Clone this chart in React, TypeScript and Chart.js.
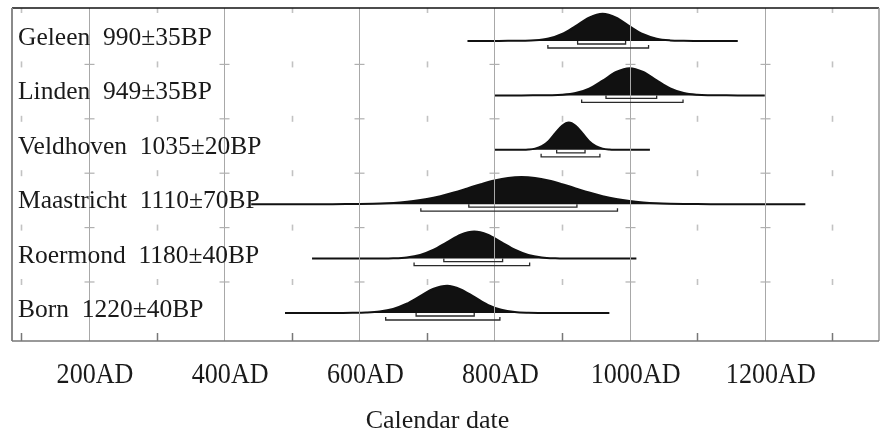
import React, { useEffect, useRef } from "react";
import { Chart, registerables } from "chart.js";

Chart.register(...registerables);

// ---------- data ----------
const SAMPLES = ["Geleen", "Linden", "Veldhoven", "Maastricht", "Roermond", "Born"];
const DATES = ["990±35BP", "949±35BP", "1035±20BP", "1110±70BP", "1180±40BP", "1220±40BP"];

// first calendar year (AD) and step of each probability list
const START_YEARS = [760, 800, 800, 440, 530, 490];
const STEP_YEARS = [20, 20, 10, 20, 20, 20];

// relative probability (peak = 1)
const GELEEN_PROB = [0, 0, 0.003, 0.006, 0.012, 0.025, 0.09, 0.26, 0.55, 0.86, 1, 0.86, 0.54, 0.25, 0.085, 0.022, 0.006, 0.002, 0, 0, 0];
const LINDEN_PROB = [0, 0, 0, 0.003, 0.008, 0.022, 0.085, 0.25, 0.54, 0.86, 1, 0.86, 0.55, 0.26, 0.09, 0.025, 0.008, 0.003, 0, 0, 0];
const VELDHOVEN_PROB = [0, 0, 0, 0, 0.002, 0.011, 0.044, 0.135, 0.32, 0.61, 0.88, 1, 0.88, 0.61, 0.32, 0.135, 0.044, 0.011, 0.002, 0, 0, 0, 0, 0];
const MAASTRICHT_PROB = [
  0, 0, 0, 0, 0, 0.001, 0.001, 0.003, 0.008, 0.017, 0.034, 0.065, 0.115, 0.191, 0.297, 0.43, 0.583, 0.738, 0.874, 0.967,
  1, 0.967, 0.874, 0.738, 0.583, 0.43, 0.297, 0.191, 0.115, 0.065, 0.034, 0.017, 0.008, 0.003, 0.001, 0.001, 0, 0, 0, 0, 0, 0,
];
const ROERMOND_PROB = [0, 0, 0, 0, 0, 0.002, 0.011, 0.044, 0.135, 0.325, 0.607, 0.882, 1, 0.882, 0.607, 0.325, 0.135, 0.044, 0.011, 0.002, 0, 0, 0, 0, 0];
const BORN_PROB = [0, 0, 0, 0.001, 0.003, 0.006, 0.018, 0.055, 0.15, 0.34, 0.62, 0.89, 1, 0.87, 0.59, 0.3, 0.12, 0.035, 0.008, 0.002, 0, 0, 0, 0, 0];

const PROBS = [GELEEN_PROB, LINDEN_PROB, VELDHOVEN_PROB, MAASTRICHT_PROB, ROERMOND_PROB, BORN_PROB];

// 68.2% and 95.4% ranges (AD)
const RANGE_68 = [[923, 994], [965, 1040], [892, 934], [762, 922], [725, 812], [684, 770]];
const RANGE_95 = [[879, 1028], [929, 1079], [869, 956], [691, 982], [681, 852], [639, 808]];

const TICK_YEARS = [200, 400, 600, 800, 1000, 1200];
const TICK_LABELS = ["200AD", "400AD", "600AD", "800AD", "1000AD", "1200AD"];
const MINOR_YEARS = [100, 300, 500, 700, 900, 1100, 1300];
const X_TITLE = "Calendar date";

const X_MIN = 86;
const X_MAX = 1369;
const Y_MIN = -0.515;
const Y_MAX = 5.607;
const AMP = 0.5;

const FONT = '"Liberation Serif", "Times New Roman", serif';

const overlayPlugin = {
  id: "oxcalOverlay",
  afterDatasetsDraw(chart: any) {
    const { ctx, chartArea, scales } = chart;
    const { left, right, top, bottom } = chartArea;
    const xs = scales.x;
    const ys = scales.y;
    const n = SAMPLES.length;
    ctx.save();

    // vertical grid lines
    ctx.strokeStyle = "#a8a8a8";
    ctx.lineWidth = 1;
    TICK_YEARS.forEach((yr) => {
      const px = Math.round(xs.getPixelForValue(yr)) + 0.5;
      ctx.beginPath();
      ctx.moveTo(px, top);
      ctx.lineTo(px, bottom);
      ctx.stroke();
    });

    // per-row small ticks
    for (let i = 0; i < n; i++) {
      const b = ys.getPixelForValue(n - 1 - i);
      ctx.strokeStyle = "#c2c2c2";
      ctx.lineWidth = 1.6;
      MINOR_YEARS.forEach((yr) => {
        const px = Math.round(xs.getPixelForValue(yr)) + 0.5;
        ctx.beginPath();
        ctx.moveTo(px, Math.max(top, b - 34));
        ctx.lineTo(px, b - 28);
        ctx.stroke();
      });
      if (i > 0) {
        ctx.strokeStyle = "#b0b0b0";
        ctx.lineWidth = 1.2;
        TICK_YEARS.forEach((yr) => {
          const px = Math.round(xs.getPixelForValue(yr)) + 0.5;
          ctx.beginPath();
          ctx.moveTo(px - 5, b - 31);
          ctx.lineTo(px + 5, b - 31);
          ctx.stroke();
        });
      }
    }

    // range bars
    ctx.strokeStyle = "#2a2a2a";
    ctx.lineWidth = 1.3;
    for (let i = 0; i < n; i++) {
      const b = ys.getPixelForValue(n - 1 - i);
      const bars: [number[], number][] = [
        [RANGE_68[i], b + 3],
        [RANGE_95[i], b + 7],
      ];
      bars.forEach(([r, yy]) => {
        const x1 = xs.getPixelForValue(r[0]);
        const x2 = xs.getPixelForValue(r[1]);
        ctx.beginPath();
        ctx.moveTo(x1, yy - 3);
        ctx.lineTo(x1, yy);
        ctx.lineTo(x2, yy);
        ctx.lineTo(x2, yy - 3);
        ctx.stroke();
      });
    }

    // frame
    ctx.lineWidth = 1.5;
    ctx.strokeStyle = "#111";
    ctx.beginPath();
    ctx.moveTo(left, top);
    ctx.lineTo(right, top);
    ctx.stroke();
    ctx.strokeStyle = "#8a8a8a";
    ctx.lineWidth = 2;
    ctx.beginPath();
    ctx.moveTo(left, top);
    ctx.lineTo(left, bottom);
    ctx.stroke();
    ctx.lineWidth = 1.5;
    ctx.strokeStyle = "#999";
    ctx.beginPath();
    ctx.moveTo(right, top);
    ctx.lineTo(right, bottom);
    ctx.stroke();
    ctx.strokeStyle = "#777";
    ctx.beginPath();
    ctx.moveTo(left, bottom);
    ctx.lineTo(right, bottom);
    ctx.stroke();

    // bottom axis minor ticks
    ctx.strokeStyle = "#777";
    ctx.lineWidth = 1.5;
    MINOR_YEARS.forEach((yr) => {
      const px = Math.round(xs.getPixelForValue(yr)) + 0.5;
      ctx.beginPath();
      ctx.moveTo(px, bottom - 8);
      ctx.lineTo(px, bottom);
      ctx.stroke();
    });

    // row labels
    ctx.fillStyle = "#1a1a1a";
    ctx.textBaseline = "alphabetic";
    ctx.textAlign = "left";
    ctx.font = `25.5px ${FONT}`;
    for (let i = 0; i < n; i++) {
      const b = ys.getPixelForValue(n - 1 - i);
      ctx.fillText(`${SAMPLES[i]}  ${DATES[i]}`, left + 6, b + 4);
    }

    // tick labels
    ctx.font = `29px ${FONT}`;
    ctx.textAlign = "center";
    TICK_YEARS.forEach((yr, k) => {
      const px = xs.getPixelForValue(yr) + 6;
      ctx.save();
      ctx.translate(px, bottom + 42);
      ctx.scale(0.9, 1);
      ctx.fillText(TICK_LABELS[k], 0, 0);
      ctx.restore();
    });

    // axis title
    ctx.font = `26px ${FONT}`;
    ctx.fillText(X_TITLE, (left + right) / 2 - 8, bottom + 87);

    ctx.restore();
  },
};

export default function App() {
  const canvasRef = useRef<HTMLCanvasElement | null>(null);

  useEffect(() => {
    const canvas = canvasRef.current;
    if (!canvas) return;
    const n = SAMPLES.length;
    const datasets = PROBS.map((probs, i) => {
      const base = n - 1 - i;
      return {
        label: SAMPLES[i],
        data: probs.map((p, k) => ({ x: START_YEARS[i] + k * STEP_YEARS[i], y: base + p * AMP })),
        borderColor: "#111",
        backgroundColor: "#111",
        borderWidth: 2,
        pointRadius: 0,
        fill: { value: base },
        cubicInterpolationMode: "monotone" as const,
      };
    });

    const chart = new Chart(canvas, {
      type: "line",
      data: { datasets },
      options: {
        responsive: false,
        animation: false,
        layout: { padding: { left: 12, top: 8, right: 3, bottom: 92 } },
        plugins: { legend: { display: false }, tooltip: { enabled: false } },
        scales: {
          x: { type: "linear", min: X_MIN, max: X_MAX, display: false },
          y: { type: "linear", min: Y_MIN, max: Y_MAX, display: false },
        },
      },
      plugins: [overlayPlugin],
    });
    return () => chart.destroy();
  }, []);

  return (
    <div style={{ position: "fixed", left: 0, top: 0, width: 882, height: 433, background: "#fff" }}>
      <canvas ref={canvasRef} width={882} height={433} />
    </div>
  );
}
